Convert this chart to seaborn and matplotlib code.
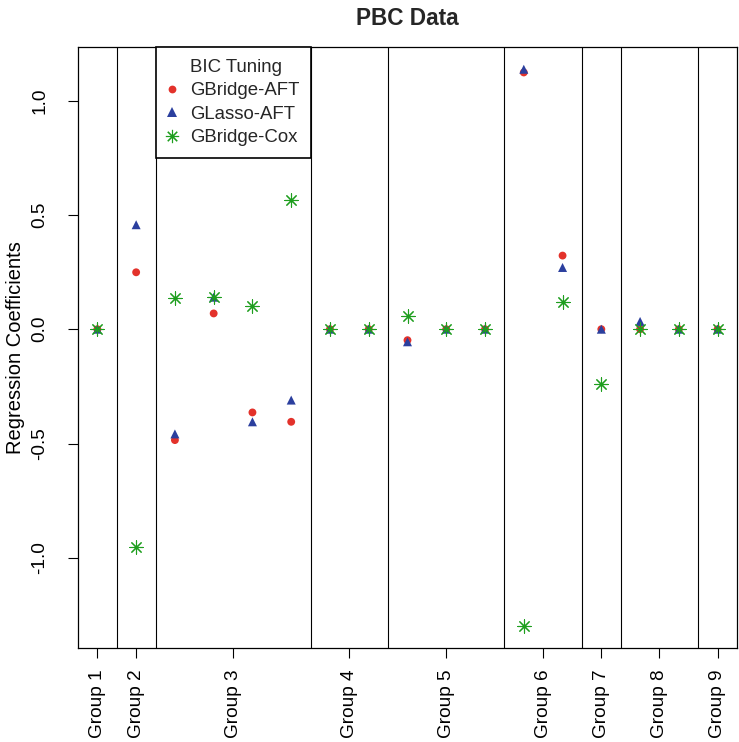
import numpy as np
import pandas as pd
import matplotlib
matplotlib.use("Agg")
import matplotlib.pyplot as plt
import seaborn as sns
from matplotlib.lines import Line2D

# ---- data ----
group_names = ["Group 1", "Group 2", "Group 3", "Group 4", "Group 5",
               "Group 6", "Group 7", "Group 8", "Group 9"]
group_sizes = [1, 1, 4, 2, 3, 2, 1, 2, 1]

gbridge_aft = [0.0, 0.249, -0.485, 0.069, -0.364, -0.405, 0.0, 0.0, -0.048,
               0.0, 0.0, 1.123, 0.322, 0.0, 0.0, 0.0, 0.0]
glasso_aft = [0.0, 0.457, -0.458, 0.140, -0.405, -0.310, 0.0, 0.0, -0.055,
              0.0, 0.0, 1.137, 0.270, 0.0, 0.034, 0.0, 0.0]
gbridge_cox = [0.0, -0.953, 0.135, 0.143, 0.100, 0.566, 0.0, 0.0, 0.058,
               0.0, 0.0, -1.297, 0.121, -0.241, 0.0, 0.0, 0.0]

series_names = ["GBridge-AFT", "GLasso-AFT", "GBridge-Cox"]
legend_title = "BIC Tuning"

# ---- style ----
sns.set_theme(style="white")
plt.rcParams["font.family"] = ["Liberation Sans", "DejaVu Sans"]

RED = "#E3322B"
BLUE = "#2B3F9E"
GREEN = "#1E9E1E"

pos = np.arange(1, len(gbridge_aft) + 1)
df = pd.DataFrame({"pos": pos, "GBridge-AFT": gbridge_aft,
                   "GLasso-AFT": glasso_aft, "GBridge-Cox": gbridge_cox})

fig = plt.figure(figsize=(7.39, 7.42), dpi=100)
ax = fig.add_axes([78 / 739, 1 - 648 / 742, (737 - 78) / 739, (648 - 47) / 742])

# group separators
bounds = np.cumsum(group_sizes)[:-1] + 0.5
for b in bounds:
    ax.axvline(b, color="black", lw=0.8, zorder=1)

sns.scatterplot(data=df, x="pos", y="GBridge-AFT", ax=ax, color=RED,
                marker="o", s=32, edgecolor="none", zorder=3, legend=False)
sns.scatterplot(data=df, x="pos", y="GLasso-AFT", ax=ax, color=BLUE,
                marker="^", s=42, edgecolor="none", zorder=4, legend=False)
sns.scatterplot(data=df, x="pos", y="GBridge-Cox", ax=ax, color=GREEN,
                marker=(8, 2, 0), s=90, linewidth=0.8, zorder=5, legend=False)

# limits (R-style 4% extension on y)
allv = np.concatenate([gbridge_aft, glasso_aft, gbridge_cox])
rng = allv.max() - allv.min()
ymin, ymax = allv.min() - 0.04 * rng, allv.max() + 0.04 * rng
ax.set_xlim(0.5, len(pos) + 0.5)
ax.set_ylim(ymin, ymax)

# x ticks at group centres
starts = np.concatenate([[0], np.cumsum(group_sizes)[:-1]])
centers = [pos[s:s + n].mean() for s, n in zip(starts, group_sizes)]
ax.set_xticks(centers)
ax.set_xticklabels(group_names, rotation=90, va="top", ha="center")

yt = [-1.0, -0.5, 0.0, 0.5, 1.0]
ax.set_yticks(yt)
ax.set_yticklabels([f"{v:.1f}" for v in yt], rotation=90, va="center")

ax.tick_params(axis="both", which="major", direction="out", length=7.5,
               width=0.8, color="black", labelsize=13.7, labelcolor="black")
ax.tick_params(axis="x", pad=8)
ax.tick_params(axis="y", pad=14)
ax.xaxis.set_ticks_position("bottom")
ax.yaxis.set_ticks_position("left")

for sp in ax.spines.values():
    sp.set_visible(True)
    sp.set_color("black")
    sp.set_linewidth(0.9)

ax.set_xlabel("")
ax.set_ylabel("Regression Coefficients", fontsize=14.5, color="black")
ax.yaxis.set_label_coords((25 - 78) / 659, 0.5)
ax.set_title("PBC Data", fontsize=16.3, fontweight="bold", pad=15.8)

# legend
handles = [
    Line2D([], [], linestyle="none", marker=None),
    Line2D([], [], linestyle="none", marker="o", color=RED, markersize=5.6,
           markeredgewidth=0),
    Line2D([], [], linestyle="none", marker="^", color=BLUE, markersize=6.5,
           markeredgewidth=0),
    Line2D([], [], linestyle="none", marker=(8, 2, 0), color=GREEN,
           markersize=9.5, markeredgewidth=0.8),
]
labels = [legend_title] + series_names
leg = ax.legend(handles, labels, loc="upper left",
                bbox_to_anchor=(2.5, ymax), bbox_transform=ax.transData,
                borderaxespad=0, fontsize=13.4, frameon=True, fancybox=False,
                framealpha=1, edgecolor="black", handlelength=0.45,
                handletextpad=0.75, borderpad=0.65, labelspacing=0.34)
leg.get_frame().set_linewidth(1.2)
leg.set_zorder(10)

fig.savefig("out.png", dpi=100)
